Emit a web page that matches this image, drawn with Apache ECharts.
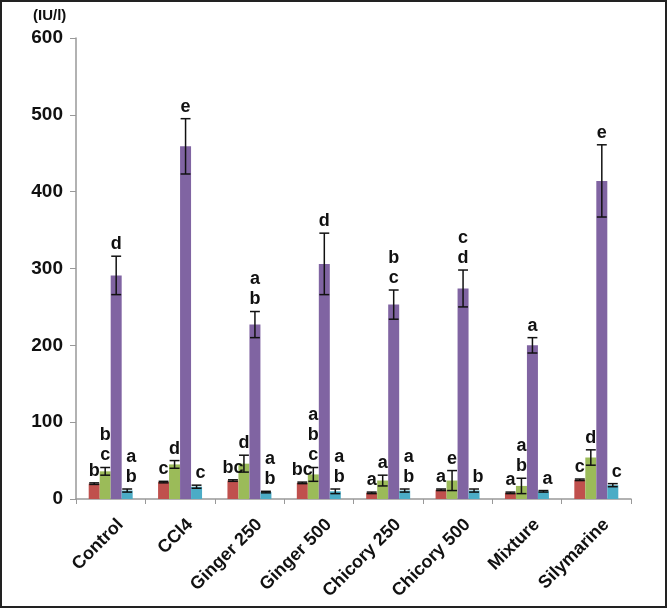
<!DOCTYPE html>
<html>
<head>
<meta charset="utf-8">
<script src="https://cdn.jsdelivr.net/npm/echarts@6/dist/echarts.min.js"></script>
<style>html,body{margin:0;padding:0;background:#fff}#c{width:668px;height:609px}</style>
</head>
<body>
<div id="c"></div>
<script>
var categories = ['Control','CCl4','Ginger 250','Ginger 500','Chicory 250','Chicory 500','Mixture','Silymarine'];
var yTicks = [0,100,200,300,400,500,600];
var redVals = [20, 22, 24, 21, 8, 12, 8, 25];
var redErr = [1, 1, 1, 1, 1, 1, 1, 1];
var redLetters = ['b','c','bc','bc','a','a','a','c'];
var greenVals = [36, 45, 46, 32, 24, 24, 17, 54];
var greenErr = [5, 5, 11, 9, 7, 13, 10, 10];
var greenLetters = ['b\nc','d','d','a\nb\nc','a','e','a\nb','d'];
var purpleVals = [291, 459, 227, 306, 253, 274, 200, 414];
var purpleErr = [25, 36, 17, 40, 19, 24, 10, 47];
var purpleLetters = ['d','e','a\nb','d','b\nc','c\nd','a','e'];
var blueVals = [11, 16, 9, 10, 11, 11, 10, 18];
var blueErr = [2, 2, 1, 3, 2, 2, 1, 2];
var blueLetters = ['a\nb','c','a\nb','a\nb','a\nb','b','a','c'];

var colors = ['#C0504D','#9BBB59','#8064A2','#4BACC6'];
var catGap = 0.366;
var FONT = 'Liberation Sans, Arial, sans-serif';
var seriesVals = [redVals, greenVals, purpleVals, blueVals];
var seriesErr = [redErr, greenErr, purpleErr, blueErr];
var seriesLetters = [redLetters, greenLetters, purpleLetters, blueLetters];

function makeErr(s) {
  var data = categories.map(function (c, i) { return [i, seriesVals[s][i], seriesErr[s][i]]; });
  return {
    type: 'custom', z: 10, silent: true,
    data: data,
    renderItem: function (params, api) {
      var i = api.value(0), v = api.value(1), e = api.value(2);
      var letters = seriesLetters[s][i];
      var band = api.size([1, 0])[0];
      var bw = band * (1 - catGap) / 4;
      var cx = api.coord([i, v])[0] + (s - 1.5) * bw;
      var yTop = api.coord([i, v + e])[1];
      var yBot = api.coord([i, Math.max(v - e, 0)])[1];
      var cap = bw * 0.45;
      var st = { stroke: '#111', lineWidth: 1.5 };
      return {
        type: 'group',
        children: [
          { type: 'line', shape: { x1: cx, y1: yTop, x2: cx, y2: yBot }, style: st },
          { type: 'line', shape: { x1: cx - cap, y1: yTop, x2: cx + cap, y2: yTop }, style: st },
          { type: 'line', shape: { x1: cx - cap, y1: yBot, x2: cx + cap, y2: yBot }, style: st },
          { type: 'text', style: { text: letters, x: cx + (s === 3 ? 4 : 0), y: yTop - 2, align: 'center', verticalAlign: 'bottom',
            fontSize: 18, fontWeight: 'bold', fontFamily: FONT, lineHeight: 20, fill: '#111' } }
        ]
      };
    }
  };
}

var series = [];
seriesVals.forEach(function (vals, s) {
  series.push({ type: 'bar', data: vals, itemStyle: { color: colors[s] }, barGap: '0%', barCategoryGap: (catGap * 100) + '%', silent: true });
});
for (var s = 0; s < 4; s++) series.push(makeErr(s));

var chart = echarts.init(document.getElementById('c'), null, { renderer: 'canvas' });
chart.setOption({
  animation: false,
  backgroundColor: '#fff',
  grid: { left: 76, right: 37, top: 38, bottom: 110, containLabel: false },
  graphic: [
    { type: 'rect', shape: { x: 1, y: 1, width: 665, height: 606 }, style: { fill: 'none', stroke: '#222', lineWidth: 2 }, z: 100 },
    { type: 'text', left: 33, top: 8, style: { text: '(IU/l)', fontSize: 15, fontWeight: 'bold', fontFamily: FONT, fill: '#111' } }
  ],
  xAxis: {
    type: 'category', data: categories,
    axisLine: { lineStyle: { color: '#999', width: 1.5 } },
    axisTick: { show: true, length: 5, alignWithLabel: false, lineStyle: { color: '#999' } },
    axisLabel: { rotate: 45, margin: 13, fontSize: 18, fontWeight: 'bold', color: '#111', fontFamily: FONT, interval: 0,
      verticalAlign: 'top', lineHeight: 28 },
    splitLine: { show: false }
  },
  yAxis: {
    type: 'value', min: yTicks[0], max: yTicks[yTicks.length - 1], interval: 100,
    axisLine: { show: true, lineStyle: { color: '#999', width: 1.5 } },
    axisTick: { show: true, length: 6, lineStyle: { color: '#999' } },
    axisLabel: { margin: 13, fontSize: 19, fontWeight: 'bold', color: '#111', fontFamily: FONT },
    splitLine: { show: false }
  },
  series: series
});
</script>
</body>
</html>
